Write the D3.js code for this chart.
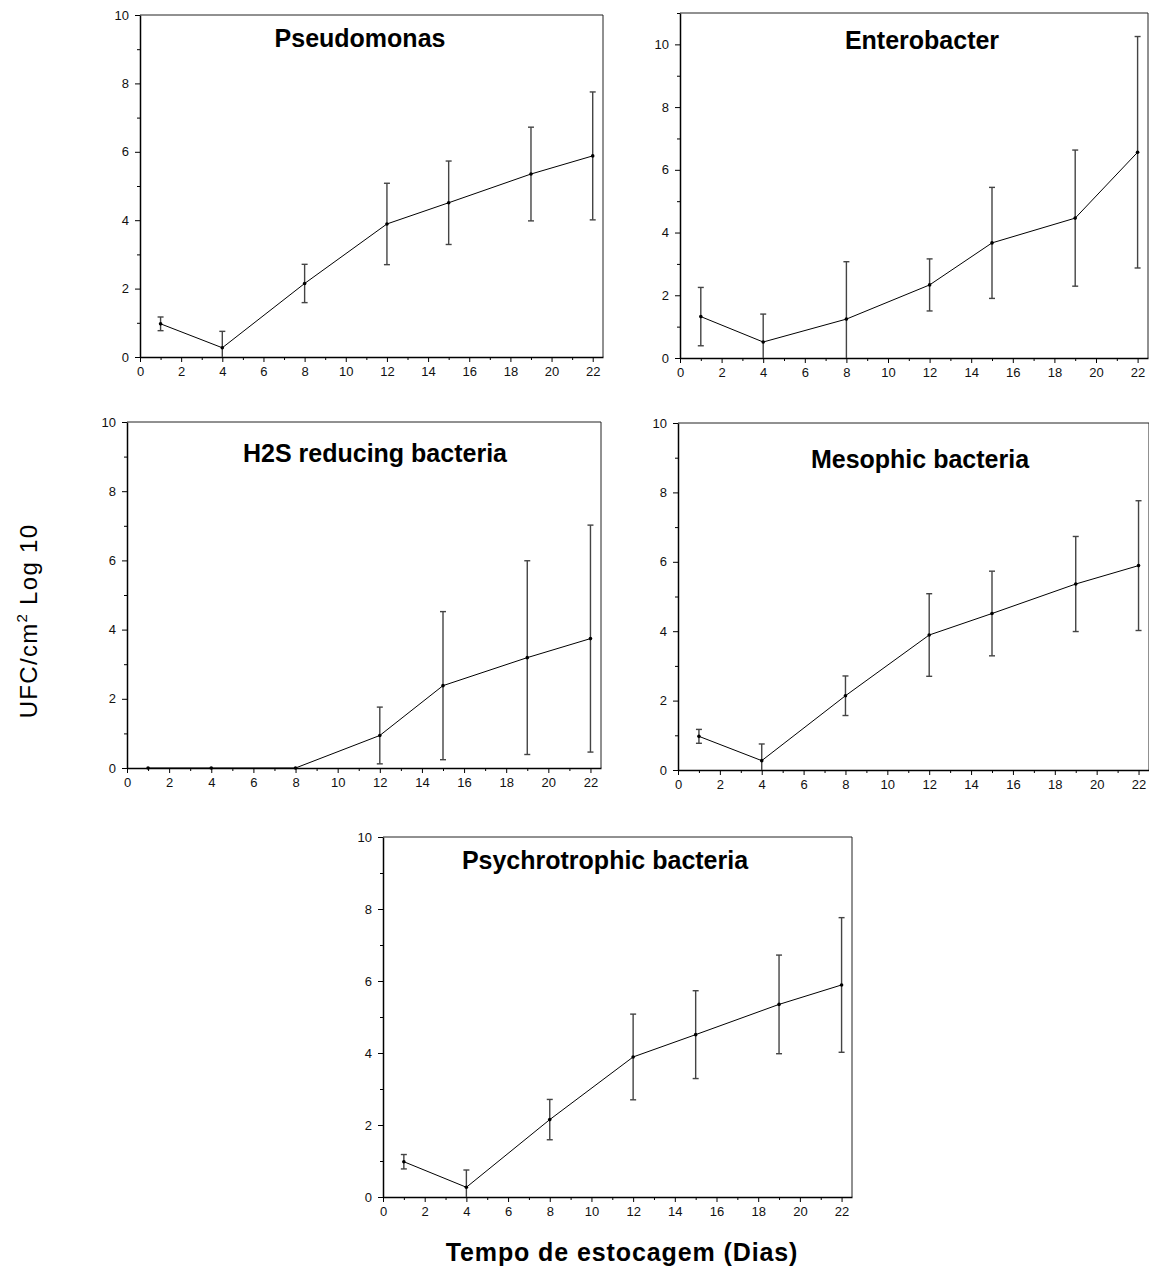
<!DOCTYPE html>
<html>
<head>
<meta charset="utf-8">
<script src="https://cdn.jsdelivr.net/npm/d3@7"></script>
<style>
  body { margin: 0; background: #fff; }
  svg { display: block; font-family: "Liberation Sans", Arial, sans-serif; }
  .tick text { font-family: "Liberation Sans", Arial, sans-serif; font-size: 13px; fill: #111; }
  .title { font-size: 25px; font-weight: bold; }
</style>
</head>
<body>
<svg id="chart" width="1149" height="1272"></svg>
<script>
// storage days, shared by every panel
const days = [1, 4, 8, 12, 15, 19, 22];

const pseudomonasMean = [0.97, 0.27, 2.15, 3.89, 4.51, 5.35, 5.88];
const pseudomonasErr  = [0.20, 0.48, 0.56, 1.19, 1.22, 1.37, 1.87];

const enterobacterMean = [1.32, 0.51, 1.24, 2.33, 3.67, 4.46, 6.56];
const enterobacterErr  = [0.93, 0.89, 1.83, 0.83, 1.77, 2.17, 3.69];

const h2sMean = [0, 0, 0, 0.94, 2.38, 3.19, 3.74];
const h2sErr  = [0, 0, 0, 0.82, 2.14, 2.80, 3.28];

const mesophicMean = [0.97, 0.27, 2.14, 3.89, 4.51, 5.36, 5.89];
const mesophicErr  = [0.20, 0.48, 0.57, 1.19, 1.22, 1.37, 1.87];

const psychroMean = [0.98, 0.27, 2.15, 3.89, 4.51, 5.35, 5.89];
const psychroErr  = [0.20, 0.48, 0.56, 1.19, 1.22, 1.37, 1.87];

const titles = ["Pseudomonas", "Enterobacter", "H2S reducing bacteria", "Mesophic bacteria", "Psychrotrophic bacteria"];

const xTicks = [0, 2, 4, 6, 8, 10, 12, 14, 16, 18, 20, 22];
const xMinor = [1, 3, 5, 7, 9, 11, 13, 15, 17, 19, 21];
const yTicks = [0, 2, 4, 6, 8, 10];
const yMinor = [1, 3, 5, 7, 9];

const yLabel = "UFC/cm";
const xLabel = "Tempo de estocagem (Dias)";

// panel boxes in pixels (layout only)
const panels = [
  {mean: pseudomonasMean, err: pseudomonasErr, left: 140, right: 603, top: 15, bottom: 357, ymax: 10, tx: 360, ty: 47},
  {mean: enterobacterMean, err: enterobacterErr, left: 680, right: 1148, top: 13, bottom: 358, ymax: 11, tx: 922, ty: 49},
  {mean: h2sMean, err: h2sErr, left: 127, right: 601, top: 422, bottom: 768, ymax: 10, tx: 375, ty: 462},
  {mean: mesophicMean, err: mesophicErr, left: 678, right: 1149, top: 423, bottom: 770, ymax: 10, tx: 920, ty: 468},
  {mean: psychroMean, err: psychroErr, left: 383, right: 852, top: 837, bottom: 1197, ymax: 10, tx: 605, ty: 869}
];

const svg = d3.select("#chart");

panels.forEach(function (p, i) {
  let x = d3.scaleLinear().domain([0, 22.5]).range([p.left, p.right]);
  let y = d3.scaleLinear().domain([0, p.ymax]).range([p.bottom, p.top]);
  let g = svg.append("g");

  let data = days.map(function (d, j) {
    return {day: d, mean: p.mean[j], err: p.err[j]};
  });

  // frame (top + right)
  g.append("path")
    .attr("d", "M" + x(0) + "," + y(p.ymax) + "H" + x(22.5) + "V" + y(0))
    .attr("fill", "none")
    .attr("stroke", "#222")
    .attr("stroke-width", 1);

  // minor ticks
  g.append("g")
    .attr("transform", "translate(0," + y(0) + ")")
    .call(d3.axisBottom(x).tickValues(xMinor).tickSize(3).tickFormat(""))
    .call(s => s.select(".domain").remove());
  g.append("g")
    .attr("transform", "translate(" + x(0) + ",0)")
    .call(d3.axisLeft(y).tickValues(yMinor.concat(p.ymax > 10 ? [11] : [])).tickSize(3).tickFormat(""))
    .call(s => s.select(".domain").remove());

  // major axes
  g.append("g")
    .attr("transform", "translate(0," + y(0) + ")")
    .call(d3.axisBottom(x).tickValues(xTicks).tickSize(5).tickSizeOuter(0).tickPadding(5))
    .call(s => s.select(".domain").attr("stroke-width", 1.5));
  g.append("g")
    .attr("transform", "translate(" + x(0) + ",0)")
    .call(d3.axisLeft(y).tickValues(yTicks).tickSize(5).tickSizeOuter(0).tickPadding(6))
    .call(s => s.select(".domain").attr("stroke-width", 1.5));

  // error bars
  let eb = g.selectAll(".err")
    .data(data.filter(d => d.err > 0))
    .enter().append("g")
    .attr("class", "err")
    .attr("stroke", "#444")
    .attr("stroke-width", 1.4);

  eb.append("line")
    .attr("x1", d => x(d.day)).attr("x2", d => x(d.day))
    .attr("y1", d => y(d.mean + d.err))
    .attr("y2", d => y(Math.max(0, d.mean - d.err)));
  eb.append("line")
    .attr("x1", d => x(d.day) - 3).attr("x2", d => x(d.day) + 3)
    .attr("y1", d => y(d.mean + d.err)).attr("y2", d => y(d.mean + d.err));
  eb.filter(d => d.mean - d.err > 0).append("line")
    .attr("x1", d => x(d.day) - 3).attr("x2", d => x(d.day) + 3)
    .attr("y1", d => y(d.mean - d.err)).attr("y2", d => y(d.mean - d.err));

  let line = d3.line()
    .x(d => x(d.day))
    .y(d => y(d.mean));

  g.append("path")
    .datum(data)
    .attr("d", line)
    .attr("fill", "none")
    .attr("stroke", "#000")
    .attr("stroke-width", 1);

  g.selectAll(".pt")
    .data(data)
    .enter().append("circle")
    .attr("class", "pt")
    .attr("cx", d => x(d.day))
    .attr("cy", d => y(d.mean))
    .attr("r", 1.8)
    .attr("fill", "#000");

  g.append("text")
    .attr("class", "title")
    .attr("x", p.tx)
    .attr("y", p.ty)
    .attr("text-anchor", "middle")
    .text(titles[i]);
});

// y axis label
let yl = svg.append("text")
  .attr("transform", "translate(37,621) rotate(-90)")
  .attr("text-anchor", "middle")
  .style("font-size", "24px")
  .style("letter-spacing", "1.3px");
yl.append("tspan").text(yLabel);
yl.append("tspan").attr("dy", -10).style("font-size", "15px").text("2");
yl.append("tspan").attr("dy", 10).text(" Log 10");

// x axis label
svg.append("text")
  .attr("x", 622)
  .attr("y", 1261)
  .attr("text-anchor", "middle")
  .style("font-size", "25px")
  .style("font-weight", "bold")
  .style("letter-spacing", "0.9px")
  .text(xLabel);
</script>
</body>
</html>
